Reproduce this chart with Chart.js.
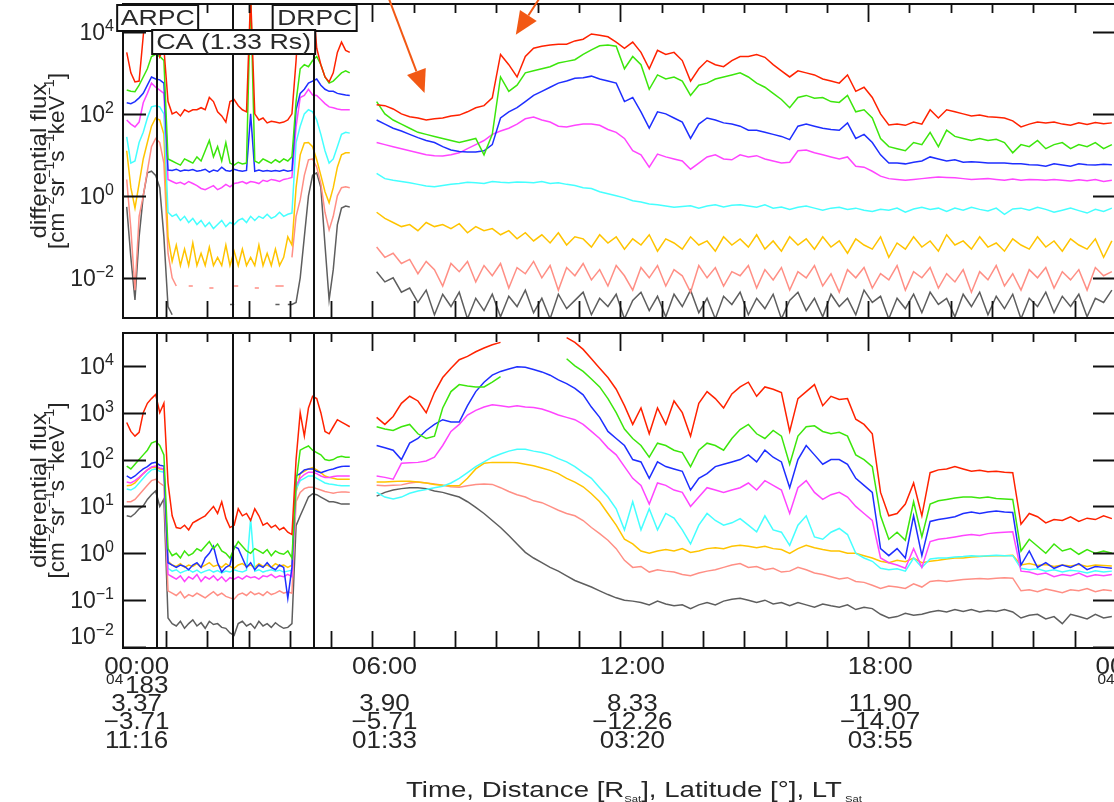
<!DOCTYPE html>
<html><head><meta charset="utf-8">
<script src="https://cdn.jsdelivr.net/npm/chart.js@4.4.1/dist/chart.umd.min.js"></script>
<style>
html,body{margin:0;padding:0;background:#fff;overflow:hidden;width:1114px;height:802px;}
#wrap{position:relative;width:1114px;height:802px;overflow:hidden;background:#fff;}
#c1{position:absolute;left:0;top:0;width:1130px;height:325px;}
#c2{position:absolute;left:0;top:325px;width:1130px;height:477px;}
</style></head><body>
<div id="wrap">
<canvas id="c1" width="1130" height="325"></canvas>
<canvas id="c2" width="1130" height="477"></canvas>
</div>
<script>
// ---------- time axis (hours of day 2004-183) ----------
const tLeft = [0.05,0.15,0.25,0.35,0.45,0.55,0.65,0.75,0.85,0.95,
 1.05,1.15,1.25,1.35,1.45,1.55,1.65,1.75,1.85,1.95,
 2.05,2.15,2.25,2.35,2.45,2.55,2.65,2.75,2.85,2.95,
 3.05,3.15,3.25,3.35,3.45,3.55,3.65,3.75,3.85,3.95,
 4.05,4.15,4.25,4.35,4.45,4.55,4.65,4.75,4.85,4.95,
 5.05,5.15,5.25,5.35,5.45];
const tMain = [6.1,6.3,6.5,6.7,6.9,7.1,7.3,7.5,7.7,7.9,
 8.1,8.3,8.5,8.7,8.9,9.1,9.3,9.5,9.7,9.9,
 10.1,10.3,10.5,10.7,10.9,11.1,11.3,11.5,11.7,11.9,
 12.1,12.3,12.5,12.7,12.9,13.1,13.3,13.5,13.7,13.9,
 14.1,14.3,14.5,14.7,14.9,15.1,15.3,15.5,15.7,15.9,
 16.1,16.3,16.5,16.7,16.9,17.1,17.3,17.5,17.7,17.9,
 18.1,18.3,18.5,18.7,18.9,19.1,19.3,19.5,19.7,19.9,
 20.1,20.3,20.5,20.7,20.9,21.1,21.3,21.5,21.7,21.9,
 22.1,22.3,22.5,22.7,22.9,23.1,23.3,23.5,23.7,23.9];
const gapTime = 5.8;
const eventTimes = [0.775, 2.615, 4.576];           // ARPC, CA, DRPC lines
const hourTicks = [1,2,3,4,5,6,7,8,9,10,11,12,13,14,15,16,17,18,19,20,21,22,23];
const majorHours = [6,12,18];
const labelHours = [0,6,12,18,24];
const xLabelTime = ['00:00','06:00','12:00','18:00','00:00'];
const xLabelYear = ['04','','','','04'];
const xLabelDay  = ['183','','','','184'];
const xLabelDist = ['3.37','3.90','8.33','11.90',''];
const xLabelLat  = ['\u22123.71','\u22125.71','\u221212.26','\u221214.07',''];
const xLabelLT   = ['11:16','01:33','03:20','03:55',''];
const topTickExps = [-2,0,2,4];
const botTickExps = [-2,-1,0,1,2,3,4];
const channelNames = ['ch1','ch2','ch3','ch4','ch5','ch6','ch7','ch8'];

// ---------- series: log10(differential flux) ----------
// TOP PANEL, left segment (55 values)
const topRedL = [3.5,3.0,2.78,2.8,3.9,4.9,4.9,4.9,3.4,3.6,
 2.3,2.0,2.05,1.95,2.1,2.05,2.1,2.1,2.15,2.1,
 2.4,2.3,2.05,1.95,1.8,2.3,2.35,2.2,2.1,2.05,
 4.9,2.0,1.85,1.9,1.78,1.82,1.8,1.78,1.8,1.85,
 2.0,3.3,4.9,4.9,4.9,4.9,3.6,3.2,2.9,2.78,
 3.0,3.5,3.75,3.55,3.5];
const topGreenL = [2.58,2.55,2.54,2.7,2.9,3.1,3.4,3.45,3.4,3.3,
 0.9,0.85,0.8,0.75,0.9,0.85,0.8,0.95,0.85,1.1,
 1.35,0.95,1.2,0.85,1.3,0.8,0.75,0.82,0.78,0.8,
 4.9,0.85,0.8,0.9,0.85,0.8,0.88,0.82,0.9,0.85,
 0.95,2.3,3.1,3.2,3.15,3.3,3.4,3.2,2.9,2.75,
 2.8,2.9,3.0,3.05,3.0];
const topBlueL = [2.27,2.25,2.3,2.39,2.5,2.7,2.9,2.85,2.83,2.75,
 0.63,0.62,0.65,0.6,0.63,0.62,0.64,0.6,0.62,0.65,
 0.58,0.63,0.6,0.7,0.62,0.6,0.65,0.62,0.6,0.62,
 2.0,0.6,0.63,0.6,0.62,0.6,0.62,0.6,0.63,0.6,
 0.62,2.1,2.5,2.6,2.75,2.8,2.85,2.7,2.6,2.55,
 2.55,2.5,2.48,2.46,2.45];
const topMagL = [1.85,1.75,1.68,1.8,2.27,2.5,2.75,2.65,2.58,2.5,
 0.4,0.35,0.3,0.33,0.28,0.35,0.3,0.25,0.18,0.15,
 0.2,0.25,0.15,0.2,0.28,0.22,0.3,0.32,0.35,0.3,
 0.35,0.33,0.3,0.38,0.35,0.4,0.38,0.35,0.4,0.42,
 0.45,1.68,2.4,2.45,2.6,2.46,2.45,2.35,2.25,2.17,
 2.15,2.12,2.1,2.1,2.1];
const topCyanL = [1.44,0.8,0.85,1.3,1.55,1.9,2.17,2.2,2.17,2.0,
 -0.4,-0.5,-0.45,-0.6,-0.5,-0.65,-0.55,-0.7,-0.6,-0.75,
 -0.65,-0.8,-0.7,-0.6,-0.75,-0.65,-0.7,-0.6,-0.55,-0.65,
 -0.5,-0.6,-0.5,-0.55,-0.45,-0.55,-0.5,-0.4,-0.5,-0.45,
 -0.42,1.3,1.7,2.0,2.1,2.05,1.85,1.5,1.1,0.8,
 0.9,1.2,1.5,1.55,1.53];
const topGoldL = [1.1,0.2,-0.3,0.3,0.9,1.3,1.7,1.9,1.85,1.5,
 -1.0,-1.6,-1.2,-1.7,-1.3,-1.7,-1.15,-1.7,-1.4,-1.7,
 -1.25,-1.7,-1.5,-1.7,-1.2,-1.7,-1.35,-1.7,-1.3,-1.7,
 -1.5,-1.7,-1.2,-1.7,-1.4,-1.7,-1.3,-1.7,-1.5,-1.0,
 -1.2,0.2,1.0,1.29,1.3,1.2,0.88,0.5,0.1,-0.17,
 0.2,0.7,1.0,1.05,1.05];
const topSalmonL = [0.4,-0.8,-2.3,-0.5,0.0,0.6,1.2,1.4,1.3,0.8,
 -1.4,-2.0,-2.2,null,null,-2.2,-2.2,null,null,null,
 -2.25,-2.25,null,null,null,null,-2.2,-2.2,null,null,
 null,-2.25,-2.25,null,null,null,-2.2,-2.2,-2.2,null,
 -1.5,-0.5,-0.1,0.5,0.88,0.9,0.7,0.3,-0.4,-0.83,
 -0.5,0.0,0.2,0.22,0.2];
const topGrayL = [-0.27,-1.5,-2.54,-1.0,0.0,0.56,0.6,0.5,0.2,-1.0,
 -2.7,-2.9,null,null,null,null,null,null,null,null,
 null,null,null,null,null,-2.65,-2.65,null,null,null,
 null,null,null,null,null,null,-2.65,-2.65,null,-2.65,
 -2.65,-2.6,-2.0,-1.0,0.0,0.5,0.56,0.2,-1.2,-2.54,
 -1.8,-0.7,-0.3,-0.25,-0.27];

// TOP PANEL, main segment (90 values)
const topRedM = [2.22,2.2,2.12,2.0,1.93,1.9,1.85,1.88,1.9,1.95,
 1.97,2.05,2.15,2.2,2.39,3.45,3.2,2.9,3.4,3.6,
 3.65,3.68,3.7,3.7,3.78,3.82,3.95,3.92,3.88,3.75,
 3.6,3.75,3.5,3.1,3.55,3.45,3.5,3.3,2.8,3.1,
 3.3,3.2,3.15,3.3,3.4,3.4,3.45,3.38,3.2,3.05,
 2.9,3.05,3.0,2.95,2.85,2.8,2.75,2.95,2.55,2.65,
 2.4,2.0,1.73,1.75,1.72,1.8,1.75,2.1,1.9,2.1,
 2.05,2.0,1.95,1.97,1.93,1.92,1.9,1.83,1.68,1.75,
 1.8,1.78,1.8,1.75,1.72,1.78,1.74,1.79,1.76,1.78];
const topGreenM = [2.3,2.0,1.85,1.75,1.65,1.55,1.5,1.45,1.4,1.35,
 1.3,1.35,1.4,1.0,1.5,2.9,2.55,2.7,3.0,3.05,
 3.1,3.15,3.24,3.28,3.32,3.45,3.56,3.66,3.68,3.65,
 3.1,3.4,3.2,2.6,2.95,2.85,2.9,2.8,2.45,2.7,
 2.75,2.85,2.9,2.95,3.0,2.9,2.75,2.65,2.5,2.35,
 2.15,2.4,2.45,2.38,2.4,2.3,2.28,2.45,2.05,2.1,
 1.9,1.4,1.2,1.15,1.1,1.3,1.25,1.55,1.2,1.6,
 1.45,1.4,1.35,1.4,1.35,1.38,1.3,1.05,1.25,1.2,
 1.35,1.15,1.25,1.3,1.15,1.25,1.2,1.3,1.15,1.25];
const topBlueM = [1.85,1.75,1.65,1.58,1.5,1.42,1.35,1.3,1.2,1.12,
 1.08,1.07,1.07,1.1,1.25,1.9,2.05,2.15,2.3,2.45,
 2.55,2.65,2.75,2.8,2.87,2.88,2.92,2.85,2.8,2.75,
 2.3,2.4,2.05,1.65,2.05,2.0,1.9,1.8,1.4,1.75,
 1.9,1.85,1.78,1.75,1.7,1.6,1.6,1.55,1.5,1.45,
 1.37,1.7,1.75,1.7,1.65,1.62,1.6,1.78,1.4,1.5,
 1.3,1.0,0.8,0.8,0.78,0.82,0.85,0.95,0.9,0.85,
 0.88,0.82,0.83,0.82,0.8,0.8,0.8,0.78,0.78,0.76,
 0.75,0.72,0.78,0.75,0.72,0.78,0.76,0.75,0.77,0.76];
const topMagM = [1.3,1.25,1.2,1.15,1.1,1.05,1.0,0.98,0.97,1.0,
 1.05,1.15,1.25,1.35,1.5,1.58,1.65,1.75,1.88,1.92,
 1.85,1.8,1.7,1.68,1.72,1.75,1.75,1.72,1.62,1.55,
 1.4,1.1,1.0,0.7,1.02,0.95,0.9,0.85,0.65,0.8,
 0.95,1.0,0.9,0.88,1.0,0.95,0.98,0.9,0.85,0.8,
 0.82,1.1,1.12,1.05,1.0,0.95,0.9,0.95,0.72,0.7,
 0.6,0.48,0.42,0.4,0.38,0.4,0.42,0.44,0.46,0.45,
 0.44,0.42,0.4,0.41,0.42,0.4,0.38,0.41,0.38,0.4,
 0.39,0.38,0.4,0.38,0.36,0.39,0.37,0.4,0.35,0.38];
const topCyanM = [0.55,0.42,0.38,0.35,0.32,0.28,0.24,0.22,0.25,0.28,
 0.3,0.33,0.32,0.3,0.35,0.33,0.32,0.34,0.33,0.32,
 0.35,0.3,0.32,0.28,0.25,0.2,0.18,0.1,0.05,0.0,
 -0.05,-0.12,-0.15,-0.2,-0.22,-0.25,-0.28,-0.26,-0.24,-0.3,
 -0.25,-0.22,-0.27,-0.23,-0.22,-0.25,-0.28,-0.22,-0.3,-0.27,
 -0.33,-0.28,-0.25,-0.3,-0.35,-0.3,-0.28,-0.33,-0.3,-0.35,
 -0.38,-0.33,-0.35,-0.3,-0.4,-0.32,-0.28,-0.33,-0.3,-0.38,
 -0.3,-0.35,-0.28,-0.33,-0.37,-0.3,-0.45,-0.32,-0.3,-0.35,
 -0.28,-0.33,-0.4,-0.35,-0.3,-0.36,-0.42,-0.33,-0.38,-0.3];
const topGoldM = [-0.4,-0.55,-0.65,-0.75,-0.7,-0.85,-0.65,-0.75,-0.7,-0.8,
 -0.68,-0.9,-0.75,-0.85,-0.8,-0.95,-0.85,-1.05,-0.9,-1.1,
 -0.95,-1.15,-0.9,-1.2,-1.0,-1.05,-1.25,-0.95,-1.15,-1.0,
 -1.3,-1.05,-1.2,-0.95,-1.35,-1.05,-1.15,-1.3,-1.0,-1.2,
 -1.1,-1.35,-1.0,-1.2,-1.05,-1.25,-0.95,-1.3,-1.1,-1.35,
 -1.0,-1.2,-1.05,-1.3,-1.0,-1.25,-1.1,-1.4,-1.05,-1.2,
 -1.3,-1.0,-1.5,-1.15,-1.3,-1.0,-1.25,-1.1,-1.35,-0.95,
 -1.2,-1.1,-1.3,-1.0,-1.25,-1.15,-1.35,-1.05,-1.2,-1.3,
 -1.0,-1.25,-1.1,-1.35,-1.05,-1.2,-1.3,-1.05,-1.5,-1.1];
const topSalmonM = [-1.25,-1.5,-1.4,-1.65,-1.55,-1.9,-1.6,-1.8,-2.2,-1.65,
 -1.85,-1.6,-2.1,-1.7,-1.95,-1.65,-2.25,-1.75,-1.9,-1.6,
 -2.0,-1.7,-2.3,-1.75,-1.95,-1.65,-2.05,-1.8,-2.2,-1.7,
 -1.95,-2.3,-1.75,-2.0,-1.7,-2.2,-1.8,-1.95,-2.35,-1.7,
 -2.0,-1.75,-2.2,-1.85,-1.95,-1.7,-2.25,-1.8,-2.05,-1.75,
 -2.3,-1.85,-2.0,-1.7,-2.2,-1.9,-2.35,-1.8,-2.0,-1.75,
 -2.25,-1.9,-2.05,-1.7,-2.3,-1.85,-2.0,-1.75,-2.25,-1.9,
 -2.1,-1.8,-2.35,-1.85,-2.05,-1.7,-2.2,-1.9,-2.3,-1.8,
 -2.0,-1.75,-2.25,-1.85,-2.05,-1.8,-2.3,-1.75,-1.95,-1.85];
const topGrayM = [-1.85,-2.1,-2.0,-2.35,-2.25,-2.6,-2.3,-2.9,-2.4,-2.7,
 -2.35,-3.0,-2.5,-2.8,-2.4,-2.95,-2.45,-2.7,-2.3,-2.85,
 -2.5,-3.0,-2.4,-2.75,-2.55,-2.35,-2.9,-2.5,-2.7,-2.4,
 -3.0,-2.55,-2.35,-2.8,-2.45,-2.95,-2.4,-2.7,-2.3,-2.85,
 -2.5,-3.0,-2.45,-2.65,-2.35,-2.9,-2.5,-2.75,-2.4,-3.0,
 -2.55,-2.35,-2.8,-2.5,-2.95,-2.4,-2.7,-2.5,-2.9,-2.3,
 -2.6,-2.45,-3.0,-2.5,-2.75,-2.4,-2.85,-2.35,-2.65,-2.5,
 -2.95,-2.4,-2.7,-2.35,-2.9,-2.45,-2.75,-2.4,-3.0,-2.5,
 -2.7,-2.35,-2.85,-2.45,-2.7,-2.4,-2.95,-2.5,-2.6,-2.3];

// BOTTOM PANEL, left segment (55 values)
const botRedL = [2.79,2.6,2.5,2.58,3.0,3.2,3.3,3.39,3.0,3.2,
 1.5,0.8,0.55,0.53,0.6,0.5,0.65,0.7,0.75,0.8,
 0.9,1.0,0.85,1.1,0.75,0.55,0.6,0.95,0.8,0.85,
 0.7,0.95,0.8,0.6,0.65,0.55,0.6,0.5,0.55,0.45,
 0.4,2.0,3.0,2.5,3.1,3.35,3.3,3.0,2.6,2.55,
 2.7,2.85,2.8,2.75,2.7];
const botGreenL = [1.86,1.8,1.9,2.0,2.1,2.2,2.35,2.39,2.3,2.1,
 0.1,-0.05,0.0,-0.1,0.05,-0.05,0.0,0.1,0.05,0.15,
 0.25,0.1,0.2,0.05,0.0,-0.1,0.1,0.25,0.15,0.05,
 0.0,0.1,0.05,0.0,0.08,-0.05,0.05,0.0,-0.02,0.05,
 -0.1,1.52,2.2,2.25,2.29,2.2,2.15,2.1,2.0,1.98,
 2.0,2.05,2.07,2.05,2.05];
const botBlueL = [1.65,1.6,1.65,1.73,1.8,1.85,1.92,1.94,1.88,1.86,
 -0.2,-0.25,-0.3,-0.25,-0.28,-0.35,-0.25,-0.2,-0.3,-0.1,
 0.0,0.15,-0.2,-0.4,-0.3,-0.25,0.15,0.1,-0.1,-0.3,
 -0.2,-0.35,-0.25,-0.3,-0.2,-0.3,-0.35,-0.25,-0.3,-0.96,
 -0.3,1.65,1.7,1.78,1.8,1.8,1.75,1.72,1.75,1.78,
 1.8,1.83,1.85,1.86,1.86];
const botMagL = [1.52,1.5,1.55,1.62,1.7,1.78,1.84,1.86,1.82,1.8,
 -0.45,-0.5,-0.55,-0.48,-0.6,-0.5,-0.55,-0.45,-0.6,-0.5,
 -0.55,-0.48,-0.58,-0.5,-0.6,-0.52,-0.55,-0.5,-0.55,-0.48,
 -0.52,-0.5,-0.55,-0.48,-0.5,-0.45,-0.52,-0.48,-0.5,-0.45,
 -0.5,1.44,1.6,1.68,1.73,1.73,1.7,1.65,1.62,1.62,
 1.64,1.65,1.65,1.65,1.65];
const botCyanL = [1.37,1.35,1.4,1.5,1.6,1.7,1.78,1.8,1.75,1.73,
 -0.32,-0.38,-0.35,-0.42,-0.38,-0.35,-0.4,-0.36,-0.42,-0.38,
 -0.35,-0.4,-0.37,-0.42,-0.38,-0.4,-0.35,-0.38,-0.4,-0.36,
 0.74,-0.38,-0.35,-0.4,-0.37,-0.35,-0.38,-0.36,-0.4,-0.38,
 -0.36,1.37,1.55,1.6,1.65,1.65,1.6,1.55,1.5,1.48,
 1.47,1.45,1.44,1.44,1.44];
const botGoldL = [1.44,1.45,1.5,1.6,1.7,1.78,1.83,1.83,1.8,1.78,
 -0.17,-0.25,-0.28,-0.22,-0.3,-0.25,-0.28,-0.22,-0.3,-0.25,
 -0.2,-0.28,-0.25,-0.3,-0.22,-0.28,-0.32,-0.25,-0.22,-0.28,
 -0.25,-0.3,-0.22,-0.28,-0.25,-0.3,-0.22,-0.27,-0.25,-0.3,
 -0.25,1.3,1.7,1.75,1.8,1.83,1.78,1.72,1.65,1.62,
 1.6,1.58,1.58,1.58,1.58];
const botSalmonL = [1.1,1.1,1.15,1.25,1.35,1.45,1.55,1.58,1.5,1.44,
 -0.8,-0.85,-0.9,-0.82,-0.95,-0.88,-0.92,-0.85,-0.9,-0.95,
 -0.88,-0.82,-0.9,-0.85,-0.92,-0.95,-0.98,-0.88,-0.85,-0.9,
 -0.82,-0.88,-0.85,-0.9,-0.82,-0.88,-0.85,-0.8,-0.85,-0.82,
 -0.85,1.1,1.3,1.38,1.41,1.41,1.38,1.35,1.32,1.3,
 1.28,1.3,1.31,1.31,1.3];
const botGrayL = [0.8,0.78,0.85,0.95,1.01,1.15,1.25,1.33,1.0,1.16,
 -1.38,-1.5,-1.55,-1.45,-1.6,-1.5,-1.42,-1.55,-1.48,-1.6,
 -1.45,-1.52,-1.5,-1.58,-1.6,-1.7,-1.75,-1.5,-1.45,-1.55,
 -1.5,-1.6,-1.45,-1.55,-1.5,-1.58,-1.48,-1.55,-1.6,-1.58,
 -1.5,0.59,0.8,1.0,1.2,1.27,1.25,1.2,1.15,1.1,
 1.1,1.08,1.05,1.05,1.05];

// BOTTOM PANEL, main segment (90 values)
const botRedM = [2.9,2.75,2.92,3.2,3.35,3.25,3.0,3.43,3.75,3.95,
 4.13,4.2,4.3,4.38,4.45,4.5,null,null,null,null,
 null,null,null,4.6,4.5,4.35,4.15,3.95,3.75,3.5,
 3.15,2.75,3.1,2.55,3.1,2.75,3.25,3.0,2.5,3.2,
 3.45,3.3,3.1,3.4,3.55,3.65,3.35,3.55,3.5,3.43,
 2.6,3.3,3.45,3.6,3.15,3.35,3.28,3.3,2.86,2.75,
 2.55,1.3,0.8,0.85,1.05,1.5,0.8,1.72,1.78,1.8,
 1.85,1.8,1.75,1.77,1.74,1.75,1.73,1.72,0.62,0.85,
 0.78,0.65,0.72,0.7,0.78,0.68,0.75,0.72,0.8,0.74];
const botGreenM = [2.7,2.65,2.62,2.7,2.75,2.55,2.45,2.5,3.1,3.45,
 3.6,3.57,3.55,3.55,3.65,3.77,null,null,null,null,
 null,null,null,4.15,4.0,3.88,3.72,3.55,3.3,3.0,
 2.65,2.45,2.3,2.05,2.35,2.3,2.2,2.15,1.85,2.2,
 2.35,2.3,2.2,2.45,2.64,2.75,2.55,2.45,2.62,2.5,
 1.9,2.5,2.7,2.72,2.6,2.55,2.58,2.5,2.1,2.0,
 1.85,0.8,0.3,0.45,0.28,1.1,0.35,1.05,1.12,1.15,
 1.18,1.2,1.2,1.18,1.2,1.17,1.16,1.15,0.05,0.3,
 0.15,0.0,0.2,0.05,0.1,-0.02,0.08,0.0,0.05,0.0];
const botBlueM = [2.3,2.25,2.2,2.0,2.35,2.45,2.62,2.75,2.85,2.8,
 2.8,3.15,3.45,3.65,3.8,3.88,3.93,3.98,3.97,3.92,
 3.87,3.8,3.7,3.62,3.52,3.38,3.12,2.9,2.6,2.45,
 2.3,2.0,1.95,1.6,1.95,1.85,1.8,1.75,1.35,1.6,
 1.7,1.85,1.9,1.95,2.0,2.1,1.95,2.2,2.05,1.95,
 1.4,2.0,2.3,2.1,1.9,2.0,2.0,1.9,1.6,1.45,
 1.3,0.1,-0.05,0.1,-0.1,0.8,-0.05,0.68,0.72,0.75,
 0.78,0.85,0.88,0.85,0.88,0.9,0.88,0.87,-0.25,0.05,
 -0.3,-0.2,-0.32,-0.25,-0.3,-0.22,-0.35,-0.28,-0.3,-0.32];
const botMagM = [1.65,1.62,1.58,1.92,1.93,1.94,1.97,2.05,2.3,2.6,
 2.75,2.95,3.05,3.12,3.17,3.15,3.12,3.15,3.12,3.11,
 3.08,3.02,2.95,2.9,2.85,2.75,2.6,2.45,2.25,2.1,
 1.85,1.6,1.45,1.05,1.5,1.45,1.35,1.3,1.0,1.2,
 1.4,1.35,1.3,1.35,1.4,1.5,1.35,1.55,1.45,1.35,
 0.85,1.4,1.55,1.3,1.15,1.25,1.3,1.2,1.0,0.85,
 0.7,-0.1,-0.2,-0.25,-0.32,0.1,-0.3,0.25,0.3,0.32,
 0.35,0.38,0.4,0.38,0.42,0.44,0.45,0.46,-0.38,-0.4,
 -0.45,-0.42,-0.5,-0.45,-0.48,-0.42,-0.5,-0.46,-0.48,-0.45];
const botCyanM = [1.3,1.2,1.16,1.2,1.28,1.33,1.36,1.4,1.43,1.5,
 1.6,1.72,1.85,1.95,2.05,2.12,2.18,2.22,2.22,2.18,
 2.15,2.1,2.02,1.95,1.85,1.72,1.6,1.4,1.2,0.95,
 0.5,1.1,0.5,0.95,0.5,0.85,0.75,0.5,0.2,0.6,
 0.85,0.7,0.6,0.65,0.74,0.6,0.46,0.8,0.5,0.45,
 0.17,0.6,0.8,0.35,0.3,0.45,0.53,0.4,0.0,-0.1,
 -0.17,-0.32,-0.35,-0.33,-0.38,-0.1,-0.3,-0.12,-0.1,-0.1,
 -0.08,-0.07,-0.05,-0.06,-0.05,-0.04,-0.05,-0.05,-0.32,-0.35,
 -0.33,-0.38,-0.35,-0.4,-0.36,-0.38,-0.42,-0.37,-0.4,-0.38];
const botGoldM = [1.52,1.52,1.53,1.54,1.54,1.52,1.5,1.47,1.45,1.44,
 1.44,1.6,1.8,1.92,1.94,1.94,1.94,1.93,1.9,1.87,
 1.82,1.77,1.7,1.6,1.52,1.42,1.27,1.1,0.85,0.6,
 0.3,0.2,0.05,0.0,0.05,0.08,0.05,0.1,0.02,0.05,
 0.1,0.12,0.1,0.15,0.17,0.15,0.12,0.15,0.1,0.08,
 0.0,0.1,0.17,0.12,0.08,0.05,0.05,0.0,0.0,-0.05,
 -0.1,-0.17,-0.2,-0.15,-0.18,-0.1,-0.2,-0.17,-0.15,-0.12,
 -0.1,-0.1,-0.08,-0.07,-0.06,-0.05,-0.05,-0.04,-0.25,-0.22,
 -0.26,-0.24,-0.28,-0.25,-0.27,-0.24,-0.28,-0.25,-0.26,-0.27];
const botSalmonM = [1.45,1.44,1.45,1.46,1.5,1.52,1.5,1.48,1.45,1.42,
 1.41,1.44,1.47,1.48,1.47,1.4,1.32,1.25,1.2,1.12,
 1.08,1.0,0.92,0.85,0.8,0.7,0.55,0.42,0.28,0.1,
 -0.15,-0.3,-0.28,-0.4,-0.35,-0.38,-0.4,-0.45,-0.48,-0.42,
 -0.38,-0.35,-0.3,-0.25,-0.22,-0.3,-0.28,-0.35,-0.32,-0.4,
 -0.38,-0.3,-0.35,-0.42,-0.45,-0.5,-0.55,-0.52,-0.6,-0.62,
 -0.68,-0.75,-0.7,-0.72,-0.75,-0.65,-0.72,-0.6,-0.58,-0.6,
 -0.58,-0.56,-0.55,-0.54,-0.55,-0.53,-0.52,-0.53,-0.8,-0.78,
 -0.82,-0.76,-0.8,-0.84,-0.78,-0.8,-0.75,-0.82,-0.78,-0.8];
const botGrayM = [1.22,1.3,1.35,1.38,1.4,1.4,1.38,1.33,1.3,1.25,
 1.2,1.1,0.98,0.85,0.7,0.55,0.38,0.2,0.02,-0.1,
 -0.2,-0.3,-0.38,-0.48,-0.58,-0.65,-0.72,-0.8,-0.88,-0.95,
 -1.0,-1.02,-1.05,-1.1,-1.02,-1.08,-1.12,-1.1,-1.18,-1.1,
 -1.05,-1.1,-1.02,-0.98,-0.96,-1.0,-1.05,-1.0,-1.08,-1.05,
 -1.12,-1.05,-1.1,-1.15,-1.08,-1.12,-1.15,-1.1,-1.2,-1.15,
 -1.18,-1.3,-1.38,-1.35,-1.28,-1.32,-1.3,-1.25,-1.22,-1.25,
 -1.2,-1.24,-1.2,-1.25,-1.22,-1.24,-1.2,-1.25,-1.38,-1.32,
 -1.3,-1.4,-1.35,-1.5,-1.3,-1.35,-1.4,-1.3,-1.38,-1.35];

// ---------- styling ----------
const COLORS = ['#ff2200','#3ce60c','#1e2eff','#ff45ff','#45ffff','#ffc400','#ff8f85','#5e5e5e'];
const FONT = "'Liberation Sans', Arial, Helvetica, sans-serif";
const X_MIN = -0.04, X_MAX = 24.0;

const topLeft  = [topRedL, topGreenL, topBlueL, topMagL, topCyanL, topGoldL, topSalmonL, topGrayL];
const topMain  = [topRedM, topGreenM, topBlueM, topMagM, topCyanM, topGoldM, topSalmonM, topGrayM];
const botLeft  = [botRedL, botGreenL, botBlueL, botMagL, botCyanL, botGoldL, botSalmonL, botGrayL];
const botMain  = [botRedM, botGreenM, botBlueM, botMagM, botCyanM, botGoldM, botSalmonM, botGrayM];

function toPoints(vl, vm) {
  const pts = [];
  tLeft.forEach((t, i) => pts.push({x: t, y: vl[i] == null ? null : Math.pow(10, vl[i])}));
  pts.push({x: gapTime, y: null});
  tMain.forEach((t, i) => pts.push({x: t, y: vm[i] == null ? null : Math.pow(10, vm[i])}));
  return pts;
}
function makeDatasets(L, M) {
  return L.map((vl, k) => ({
    label: channelNames[k], data: toPoints(vl, M[k]),
    borderColor: COLORS[k], backgroundColor: COLORS[k],
    borderWidth: 1.5, pointRadius: 0, tension: 0, spanGaps: false, fill: false
  }));
}

function stretchText(ctx, text, cx, cy, targetW) {
  const w = ctx.measureText(text).width;
  const s = Math.max(0.8, Math.min(1.4, targetW / w));
  ctx.save();
  ctx.translate(cx, cy);
  ctx.scale(s, 1);
  ctx.textAlign = 'center';
  ctx.textBaseline = 'middle';
  ctx.fillText(text, 0, 0);
  ctx.restore();
}
function scaledText(ctx, text, cx, cy, sx) {
  ctx.save();
  ctx.translate(cx, cy);
  ctx.scale(sx, 1);
  ctx.textAlign = 'center';
  ctx.textBaseline = 'middle';
  ctx.fillText(text, 0, 0);
  ctx.restore();
}
// draws [text, isSuperscript] pieces in a row centred on x=0 of the current transform
function drawPieces(ctx, pieces, bigPx, smallPx, supRise, targetW) {
  let total = 0;
  const ws = pieces.map(([t, sup]) => { ctx.font = (sup ? smallPx : bigPx) + 'px ' + FONT; const w = ctx.measureText(t).width; total += w; return w; });
  const sc = Math.max(0.8, Math.min(1.4, targetW / total));
  ctx.save();
  ctx.translate(-targetW / 2, 0);
  ctx.scale(sc, 1);
  ctx.textAlign = 'left';
  ctx.textBaseline = 'middle';
  let x = 0;
  pieces.forEach(([t, sup], i) => { ctx.font = (sup ? smallPx : bigPx) + 'px ' + FONT; ctx.fillText(t, x, sup ? -supRise : 0); x += ws[i]; });
  ctx.restore();
}

const yTitle1 = 'differential flux';
const yTitle2 = [['[cm',0],['\u22122',1],['sr',0],['\u22121',1],['s',0],['\u22121',1],['keV',0],['\u22121',1],[']',0]];

const decoPlugin = {
  id: 'deco',
  afterDatasetsDraw(chart) {
    const {ctx, chartArea: a} = chart;
    const xs = chart.scales.x, ys = chart.scales.y;
    ctx.save();
    ctx.strokeStyle = '#111';
    ctx.lineWidth = 2;
    ctx.beginPath();
    eventTimes.forEach(t => { const px = Math.round(xs.getPixelForValue(t)); ctx.moveTo(px, a.top); ctx.lineTo(px, a.bottom); });
    ctx.stroke();
    ctx.lineWidth = 1.8;
    ctx.beginPath();
    hourTicks.forEach(h => {
      const px = Math.round(xs.getPixelForValue(h)) + 0.5;
      const major = majorHours.includes(h);
      ctx.moveTo(px, a.top); ctx.lineTo(px, a.top + (major ? 18 : 9));
      ctx.moveTo(px, a.bottom); ctx.lineTo(px, a.bottom - 17);
    });
    ys.ticks.forEach(tk => {
      const py = Math.round(ys.getPixelForValue(tk.value)) + 0.5;
      ctx.moveTo(a.left, py); ctx.lineTo(a.left + 23, py);
      ctx.moveTo(a.right, py); ctx.lineTo(a.right - 23, py);
    });
    ctx.stroke();
    ctx.lineWidth = 2;
    ctx.strokeRect(a.left, a.top, a.right - a.left, a.bottom - a.top);
    ctx.restore();
  },
  afterDraw(chart) {
    const {ctx, chartArea: a} = chart;
    const ys = chart.scales.y;
    ctx.save();
    ctx.fillStyle = '#262626';
    ys.ticks.forEach(tk => {
      const e = String(Math.round(Math.log10(tk.value))).replace('-', '\u2212');
      let py = ys.getPixelForValue(tk.value);
      py = Math.min(py, a.bottom - 12);
      ctx.font = '16px ' + FONT; const we = ctx.measureText(e).width;
      ctx.font = '23px ' + FONT; const wb = ctx.measureText('10').width;
      const right = 114;
      ctx.textAlign = 'left'; ctx.textBaseline = 'alphabetic';
      ctx.fillText('10', right - we - wb, py + 8);
      ctx.font = '16px ' + FONT;
      ctx.fillText(e, right - we, py - 1);
    });
    const cy = (a.top + a.bottom) / 2;
    ctx.save();
    ctx.translate(40, cy); ctx.rotate(-Math.PI / 2);
    ctx.font = '22px ' + FONT;
    stretchText(ctx, yTitle1, 0, 0, 155);
    ctx.restore();
    ctx.save();
    ctx.translate(58, cy); ctx.rotate(-Math.PI / 2);
    drawPieces(ctx, yTitle2, 22, 14, 8, 176);
    ctx.restore();
    ctx.restore();
  }
};

// boxes around event lines: [label, event index, box width, box top, box height, text width]
const boxLabels = [['ARPC',0,81,5,26,74],['DRPC',2,84,5,26,75],['CA (1.33 Rs)',1,163,30,24,155]];
// arrows: [tail hour, tail log10 flux, tip hour, tip log10 flux]
const arrows = [[6.39,4.83,7.26,2.51],[10.05,4.83,9.47,3.93]];

const topAnnot = {
  id: 'topAnnot',
  afterDraw(chart) {
    const {ctx} = chart;
    const xs = chart.scales.x, ys = chart.scales.y;
    ctx.save();
    ctx.strokeStyle = '#f25814'; ctx.fillStyle = '#f25814'; ctx.lineWidth = 2;
    arrows.forEach(([t0, l0, t1, l1]) => {
      const x0 = xs.getPixelForValue(t0), y0 = ys.getPixelForValue(Math.pow(10, l0));
      const x1 = xs.getPixelForValue(t1), y1 = ys.getPixelForValue(Math.pow(10, l1));
      const dx = x1 - x0, dy = y1 - y0, L = Math.hypot(dx, dy), ux = dx / L, uy = dy / L;
      const hl = 23, hw = 10;
      const bx = x1 - ux * hl, by = y1 - uy * hl;
      ctx.beginPath(); ctx.moveTo(x0, y0); ctx.lineTo(bx, by); ctx.stroke();
      ctx.beginPath(); ctx.moveTo(x1, y1);
      ctx.lineTo(bx - uy * hw, by + ux * hw); ctx.lineTo(bx + uy * hw, by - ux * hw);
      ctx.closePath(); ctx.fill();
    });
    ctx.font = '22px ' + FONT;
    boxLabels.forEach(([txt, ei, w, top, h, tw]) => {
      const cx = xs.getPixelForValue(eventTimes[ei]) + 1;
      ctx.fillStyle = '#fff';
      ctx.fillRect(cx - w / 2, top, w, h);
      ctx.strokeStyle = '#111'; ctx.lineWidth = 2;
      ctx.strokeRect(cx - w / 2, top, w, h);
      ctx.fillStyle = '#2a2a2a';
      stretchText(ctx, txt, cx, top + h / 2 + 1, tw);
    });
    ctx.restore();
  }
};

const xLabelRows = [668, 687, 705, 723, 742];   // page y of label rows
const xTitleParts = [['Time, Distance [R', 22, 0], ['Sat', 9, 5], ['], Latitude [\u00b0], LT', 22, 0], [' Sat', 9, 5]];
const botAnnot = {
  id: 'botAnnot',
  afterDraw(chart) {
    const {ctx} = chart;
    const xs = chart.scales.x;
    const top = 325;
    ctx.save();
    ctx.fillStyle = '#262626';
    // x tick labels (time, day of year, distance, latitude, local time)
    labelHours.forEach((h, i) => {
      const cx = xs.getPixelForValue(h) + 12;
      ctx.font = '23px ' + FONT;
      scaledText(ctx, xLabelTime[i], cx, xLabelRows[0] - top, 1.13);
      if (xLabelDay[i]) scaledText(ctx, xLabelDay[i], cx + 10, xLabelRows[1] - top, 1.13);
      scaledText(ctx, xLabelDist[i], cx, xLabelRows[2] - top, 1.13);
      scaledText(ctx, xLabelLat[i], cx, xLabelRows[3] - top, 1.13);
      scaledText(ctx, xLabelLT[i], cx, xLabelRows[4] - top, 1.13);
      if (xLabelYear[i]) {
        ctx.font = '14px ' + FONT;
        scaledText(ctx, xLabelYear[i], cx - 22, xLabelRows[1] - 7 - top, 1.1);
      }
    });
    // x axis title
    ctx.textAlign = 'left'; ctx.textBaseline = 'alphabetic';
    let total = 0;
    const widths = xTitleParts.map(([t, s]) => { ctx.font = s + 'px ' + FONT; const w = ctx.measureText(t).width; total += w; return w; });
    const target = 456, sc = Math.max(0.8, Math.min(1.4, target / total));
    ctx.translate(634 - target / 2, 797 - top);
    ctx.scale(sc, 1);
    let x = 0;
    xTitleParts.forEach(([t, s, dy], i) => { ctx.font = s + 'px ' + FONT; ctx.fillText(t, x, dy); x += widths[i]; });
    ctx.restore();
  }
};

function makeConfig(L, M, cfg) {
  return {
    type: 'line',
    data: {datasets: makeDatasets(L, M)},
    plugins: [decoPlugin, cfg.annot],
    options: {
      responsive: false, maintainAspectRatio: false, animation: false,
      layout: {padding: {left: 0, right: 14, top: cfg.padTop, bottom: cfg.padBottom}},
      plugins: {legend: {display: false}, tooltip: {enabled: false}},
      scales: {
        x: {
          type: 'linear', min: X_MIN, max: X_MAX, display: cfg.showX,
          grid: {display: false, drawTicks: false}, border: {display: false},
          afterBuildTicks: s => { s.ticks = labelHours.map(v => ({value: v})); },
          afterFit: s => { s.height = cfg.xHeight; s.paddingLeft = 0; s.paddingRight = 0; },
          ticks: {display: false}
        },
        y: {
          type: 'logarithmic', min: Math.pow(10, cfg.yMinExp), max: Math.pow(10, cfg.yMaxExp),
          grid: {display: false, drawTicks: false}, border: {display: false},
          afterBuildTicks: s => { s.ticks = cfg.exps.map(e => ({value: Math.pow(10, e)})); },
          afterFit: s => { s.width = 123; s.paddingTop = 0; s.paddingBottom = 0; },
          ticks: {display: false},
          title: {display: false}
        }
      }
    }
  };
}

new Chart(document.getElementById('c1'), makeConfig(topLeft, topMain,
  {padTop: 4, padBottom: 7, showX: false, xHeight: 0, yMinExp: -2.98, yMaxExp: 4.68, exps: topTickExps, annot: topAnnot}));
new Chart(document.getElementById('c2'), makeConfig(botLeft, botMain,
  {padTop: 8, padBottom: 0, showX: true, xHeight: 154, yMinExp: -2.02, yMaxExp: 4.7, exps: botTickExps, annot: botAnnot}));
</script>
</body></html>
